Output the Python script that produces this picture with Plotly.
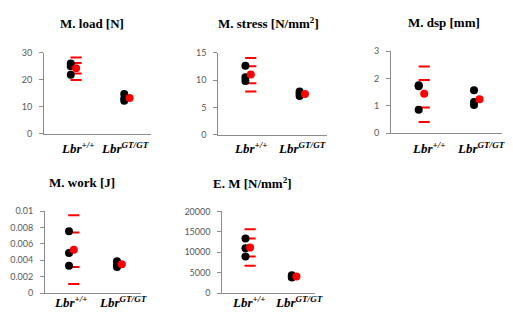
import plotly.graph_objects as go

W, H = 513, 322

categories = ["<b><i>Lbr<sup>+/+</sup></i></b>", "<b><i>Lbr<sup>GT/GT</sup></i></b>"]
titles = ["<b>M. load [N]</b>", "<b>M. stress [N/mm<sup>2</sup>]</b>", "<b>M. dsp [mm]</b>",
          "<b>M. work [J]</b>", "<b>E. M [N/mm<sup>2</sup>]</b>"]

# individual values (black), per panel: [wild-type list, mutant list]
load_wt = [26.0, 25.0, 21.8]
load_gt = [14.7, 13.0, 12.2]
stress_wt = [12.6, 10.5, 9.8]
stress_gt = [7.9, 7.5, 7.1]
dsp_wt = [1.75, 1.72, 0.86]
dsp_gt = [1.57, 1.14, 1.03]
work_wt = [0.00753, 0.00489, 0.00333]
work_gt = [0.0039, 0.0035, 0.0032]
em_wt = [13370, 11000, 8970]
em_gt = [4400, 4100, 3800]

# means (red dots)
load_mean = [24.2, 13.2]
stress_mean = [11.0, 7.45]
dsp_mean = [1.44, 1.24]
work_mean = [0.00529, 0.00353]
em_mean = [11170, 4090]

# red dash levels for wild-type group
load_dash = [28.2, 26.2, 22.3, 19.9]
stress_dash = [14.0, 12.5, 9.4, 7.9]
dsp_dash = [2.44, 1.94, 0.94, 0.41]
work_dash = [0.0095, 0.0074, 0.0032, 0.0011]
em_dash = [15650, 13370, 8970, 6680]

# y axis ticks
load_ticks = [0, 10, 20, 30]
stress_ticks = [0, 5, 10, 15]
dsp_ticks = [0, 1, 2, 3]
work_ticks = [0, 0.002, 0.004, 0.006, 0.008, 0.01]
work_ticklabels = ["0", "0.002", "0.004", "0.006", "0.008", "0.01"]
em_ticks = [0, 5000, 10000, 15000, 20000]

panels = [
    dict(wt=load_wt, gt=load_gt, mean=load_mean, dash=load_dash, ticks=load_ticks,
         labels=[str(t) for t in load_ticks],
         box=(44, 151, 48.3, 132.3), title=(92, 18), lab=(1.12, 2.02), laby=147),
    dict(wt=stress_wt, gt=stress_gt, mean=stress_mean, dash=stress_dash, ticks=stress_ticks,
         labels=[str(t) for t in stress_ticks],
         box=(218.3, 326.7, 48.3, 133.3), title=(268, 18), lab=(1.1, 2.05), laby=147),
    dict(wt=dsp_wt, gt=dsp_gt, mean=dsp_mean, dash=dsp_dash, ticks=dsp_ticks,
         labels=[str(t) for t in dsp_ticks],
         box=(391, 501.7, 46.7, 131.7), title=(444, 17), lab=(1.18, 2.12), laby=147),
    dict(wt=work_wt, gt=work_gt, mean=work_mean, dash=work_dash, ticks=work_ticks,
         labels=work_ticklabels,
         box=(45, 141, 212.3, 297.3), title=(82, 183), lab=(1.04, 2.125), laby=306),
    dict(wt=em_wt, gt=em_gt, mean=em_mean, dash=em_dash, ticks=em_ticks,
         labels=[str(t) for t in em_ticks],
         box=(222.3, 315, 212.7, 297.3), title=(252, 183), lab=(1.07, 2.15), laby=306),
]

RED = "#ff0000"
AX = "#8c8c8c"
OFF = 0.1
SERIF = "Liberation Serif, Times New Roman, Times, serif"

fig = go.Figure()
annotations = []
layout = {}
for i, p in enumerate(panels):
    n = i + 1
    xa = "x" if n == 1 else f"x{n}"
    ya = "y" if n == 1 else f"y{n}"
    x0, x1, y0, y1 = p["box"]
    # dashes
    fig.add_trace(go.Scatter(x=[1 + OFF] * len(p["dash"]), y=p["dash"], mode="markers",
                             marker=dict(symbol="line-ew", size=8, line=dict(color=RED, width=2)),
                             xaxis=xa, yaxis=ya, showlegend=False, hoverinfo="skip"))
    # black points
    xs = [1] * len(p["wt"]) + [2] * len(p["gt"])
    fig.add_trace(go.Scatter(x=xs, y=p["wt"] + p["gt"], mode="markers",
                             marker=dict(color="black", size=8),
                             xaxis=xa, yaxis=ya, showlegend=False))
    # red means
    fig.add_trace(go.Scatter(x=[1 + OFF, 2 + OFF], y=p["mean"], mode="markers",
                             marker=dict(color=RED, size=8),
                             xaxis=xa, yaxis=ya, showlegend=False))
    layout["xaxis" if n == 1 else f"xaxis{n}"] = dict(
        domain=[x0 / W, x1 / W], range=[0.5, 2.5], showgrid=False, zeroline=False,
        showline=True, linecolor=AX, linewidth=1, showticklabels=False, ticks="",
        anchor=ya, fixedrange=True)
    layout["yaxis" if n == 1 else f"yaxis{n}"] = dict(
        domain=[1 - y1 / H, 1 - y0 / H], range=[0, p["ticks"][-1]], showgrid=False,
        zeroline=False, showline=True, linecolor=AX, linewidth=1,
        tickvals=p["ticks"], ticktext=p["labels"], ticks="outside", ticklen=4,
        tickcolor=AX, ticklabelstandoff=5,
        tickfont=dict(family="Lato", size=9, color="#595959"), anchor=xa, fixedrange=True)
    tx, ty = p["title"]
    annotations.append(dict(text=titles[i], x=tx / W, y=1 - ty / H, xref="paper", yref="paper",
                            showarrow=False, xanchor="center", yanchor="middle",
                            font=dict(family=SERIF, size=13, color="black", weight="bold")))
    for k, cat in enumerate(categories):
        annotations.append(dict(text=cat, x=p["lab"][k], y=1 - p["laby"] / H,
                                xref=xa, yref="paper", showarrow=False,
                                xanchor="center", yanchor="middle",
                                font=dict(family=SERIF, size=13, color="black",
                                          weight="bold", style="italic")))

fig.update_layout(width=W, height=H, margin=dict(l=0, r=0, t=0, b=0),
                  paper_bgcolor="white", plot_bgcolor="white",
                  annotations=annotations, **layout)
fig.write_html("out.html", config={"displayModeBar": False},
               post_script="document.body.style.margin='0px';document.body.style.padding='0px';")
